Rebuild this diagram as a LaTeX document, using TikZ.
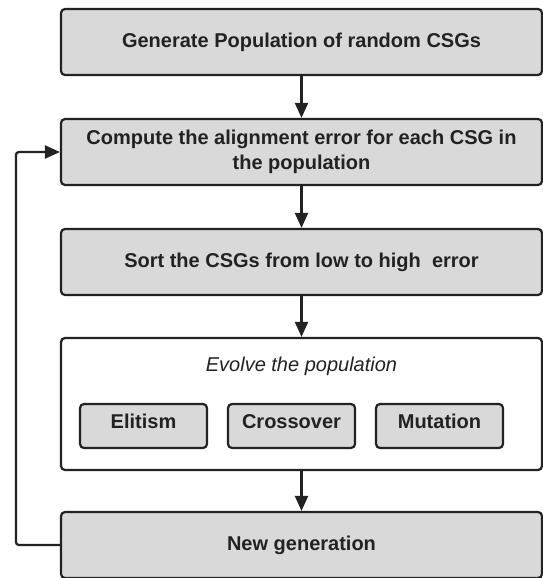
\documentclass[tikz,border=0pt]{standalone}
\usepackage{fontspec}
\setmainfont{Liberation Sans}
\usetikzlibrary{arrows.meta}
\definecolor{boxgray}{HTML}{D9D9D9}
\definecolor{linegray}{HTML}{222222}
\begin{document}
\begin{tikzpicture}[x=1pt, y=-1pt, >={Triangle[length=15pt,width=13pt]},
    stepbox/.style={rectangle, rounded corners=4pt, draw=linegray, line width=2.2pt,
      fill=boxgray, minimum width=481pt, minimum height=66pt, align=center,
      font=\fontsize{20}{25}\selectfont\bfseries, text=linegray},
    opbox/.style={stepbox, minimum width=127pt, minimum height=44pt,
      text height=0.72em, text depth=0.2em},
    flow/.style={->, draw=linegray, line width=2.2pt}]
      \useasboundingbox (0,0) rectangle (543,578);

      % Main steps
      \node[stepbox] (gen) at (301.5,42) {Generate Population of random CSGs};
      \node[stepbox] (comp) at (301.5,152) {Compute the alignment error for each CSG in\\the population};
      \node[stepbox] (sort) at (301.5,262) {Sort the CSGs from low to high\ \ error};

      % Evolution block
      \node[stepbox, fill=white, minimum height=132pt] (evolve) at (301.5,404) {};
      \node[font=\fontsize{20}{25}\selectfont\itshape, text=linegray] (evlabel) at (301.5,366) {Evolve the population};
      \node[opbox] (elit) at (143.5,426) {Elitism};
      \node[opbox] (cross) at (291.5,426) {Crossover};
      \node[opbox] (mut) at (439.5,426) {Mutation};

      \node[stepbox] (newgen) at (301.5,545) {New generation};

      % Connections
      \draw[flow] (gen) -- (comp);
      \draw[flow] (comp) -- (sort);
      \draw[flow] (sort) -- (evolve);
      \draw[flow] (evolve) -- (newgen);
      \draw[flow, rounded corners=3pt] (newgen.west) -- ++(-44,0) |- (comp.west);

   \end{tikzpicture}
\end{document}
